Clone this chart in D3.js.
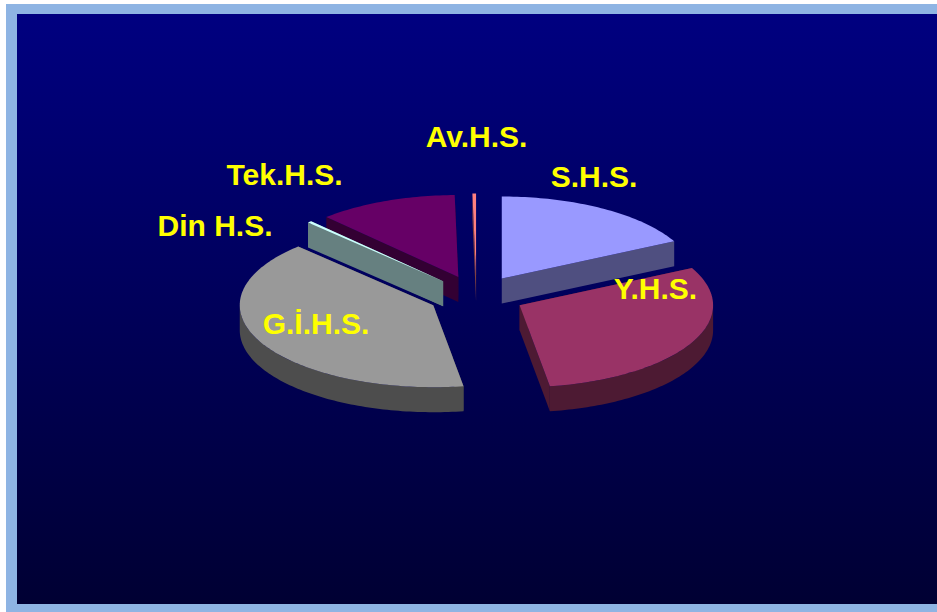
<!DOCTYPE html>
<html>
<head>
<meta charset="utf-8">
<script src="https://cdn.jsdelivr.net/npm/d3@7"></script>
<style>
html, body { margin: 0; padding: 0; background: #fff; overflow: hidden; }
svg { display: block; }
</style>
</head>
<body>
<div class="container"></div>
<script>
// shares, percent
const labels = ["S.H.S.", "Y.H.S.", "G.İ.H.S.", "Din H.S.", "Tek.H.S.", "Av.H.S."]
const shares = [17.5, 30, 40.2, 0.35, 11.65, 0.3]
const topColors = ["#9999ff", "#993366", "#999999", "#ccffff", "#660066", "#ff8080"]
const sideColors = ["#4f4f80", "#4d1a33", "#4d4d4d", "#668080", "#330033", "#804040"]

const width = 937
const height = 612
const cx = 476.5
const cy = 296
const rx = 193.5
const ry = 82
const depth = 25
const explode = 0.25

// label centres, same order as labels
const labelX = [594, 655.5, 316, 215, 284.5, 476.5]
const labelY = [176, 288, 323, 225, 174, 136]
// back to front
const drawOrder = [4, 5, 0, 3, 2, 1]

const svg = d3.select(".container").append("svg")
    .attr("width", width)
    .attr("height", height)

const grad = svg.append("defs").append("linearGradient")
    .attr("id", "bg")
    .attr("x1", 0).attr("y1", 0).attr("x2", 0).attr("y2", 1)
grad.append("stop").attr("offset", "0%").attr("stop-color", "#000080")
grad.append("stop").attr("offset", "100%").attr("stop-color", "#000033")

svg.append("rect")
    .attr("x", 6).attr("y", 4)
    .attr("width", width - 6).attr("height", height - 4)
    .attr("fill", "#8eb4e3")
svg.append("rect")
    .attr("x", 17).attr("y", 14)
    .attr("width", width - 17).attr("height", 590)
    .attr("fill", "url(#bg)")

const slices = d3.pie().sort(null).value(d => d)(shares)

const xScale = d3.scaleLinear().domain([-1, 1]).range([cx - rx, cx + rx])
const yScale = d3.scaleLinear().domain([-1, 1]).range([cy - ry, cy + ry])

const line = d3.line().x(d => d[0]).y(d => d[1])

// point on the tilted circle, a measured clockwise from the top
function rim(a, mid, r) {
    return [
        xScale(Math.sin(mid) * explode + Math.sin(a) * r),
        yScale(-Math.cos(mid) * explode - Math.cos(a) * r)
    ]
}

function arcPoints(a0, a1, mid) {
    const n = Math.max(2, Math.ceil((a1 - a0) / 0.02))
    return d3.range(n + 1).map(i => rim(a0 + (a1 - a0) * i / n, mid, 1))
}

function lowered(points) {
    return points.map(p => [p[0], p[1] + depth]).reverse()
}

function drawSlice(i) {
    const s = slices[i]
    const mid = (s.startAngle + s.endAngle) / 2
    const apex = rim(0, mid, 0)
    const g = svg.append("g")

    // the two cut faces
    ;[s.startAngle, s.endAngle].forEach(a => {
        const edge = [apex, rim(a, mid, 1)]
        g.append("path")
            .attr("d", line(edge.concat(lowered(edge))) + "Z")
            .attr("fill", sideColors[i])
    })

    // outer wall, only the front half of the rim shows
    const a0 = Math.max(s.startAngle, Math.PI / 2)
    const a1 = Math.min(s.endAngle, Math.PI * 1.5)
    if (a1 > a0) {
        const pts = arcPoints(a0, a1, mid)
        g.append("path")
            .attr("d", line(pts.concat(lowered(pts))) + "Z")
            .attr("fill", sideColors[i])
    }

    g.append("path")
        .attr("d", line([apex].concat(arcPoints(s.startAngle, s.endAngle, mid))) + "Z")
        .attr("fill", topColors[i])
}

drawOrder.forEach(drawSlice)

svg.selectAll("text.lbl")
    .data(labels)
    .enter()
    .append("text")
    .attr("class", "lbl")
    .attr("x", (d, i) => labelX[i])
    .attr("y", (d, i) => labelY[i])
    .attr("text-anchor", "middle")
    .attr("dominant-baseline", "central")
    .attr("font-family", "'Liberation Sans', Arial, sans-serif")
    .attr("font-weight", "bold")
    .attr("font-size", 30)
    .attr("fill", "#ffff00")
    .text(d => d)
</script>
</body>
</html>
